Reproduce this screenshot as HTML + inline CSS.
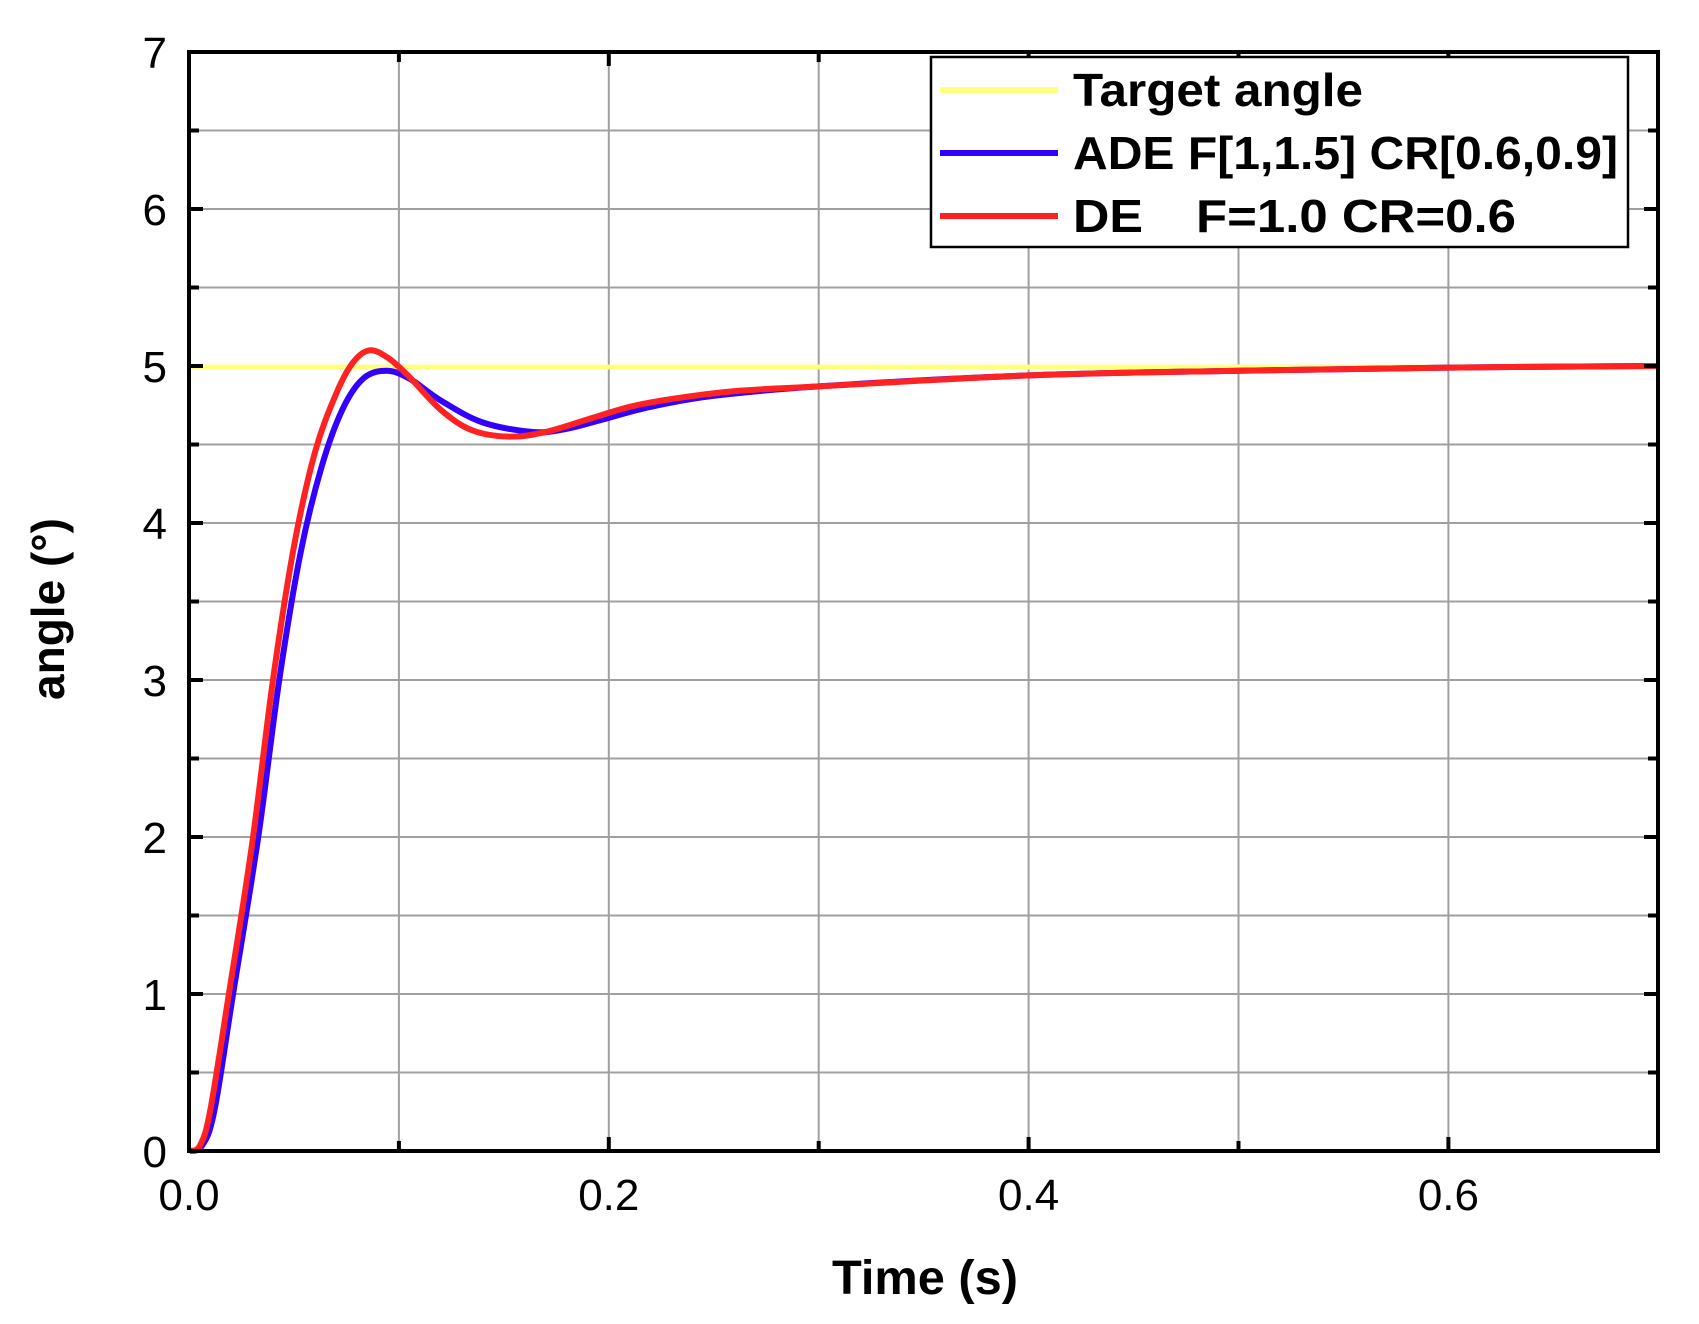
<!DOCTYPE html>
<html><head><meta charset="utf-8"><style>
html,body{margin:0;padding:0;background:#fff;}
svg{display:block;}
</style></head><body>
<svg id="s" width="1699" height="1324" viewBox="0 0 1699 1324" xmlns="http://www.w3.org/2000/svg" font-family="'Liberation Sans', Arial, sans-serif">
<g id="grid" stroke="#a0a0a0" stroke-width="2"></g>
<line x1="189" y1="367" x2="1658" y2="367" stroke="#ffff80" stroke-width="5"/>
<path id="blue" fill="none" stroke="#3300ff" stroke-width="6" stroke-linejoin="round"/>
<path id="red" fill="none" stroke="#ff2222" stroke-width="6" stroke-linejoin="round"/>
<g id="ticks" stroke="#000" stroke-width="4"></g>
<rect x="189" y="52" width="1469" height="1099" fill="none" stroke="#000" stroke-width="4"/>
<g id="labels" font-size="44" fill="#000"></g>
<rect x="931" y="57" width="697" height="190" fill="#fff" stroke="#000" stroke-width="2.5"/>
<line x1="940" y1="90" x2="1058" y2="90" stroke="#ffff80" stroke-width="6"/>
<line x1="940" y1="153" x2="1058" y2="153" stroke="#3300ff" stroke-width="6"/>
<line x1="940" y1="216" x2="1058" y2="216" stroke="#ff2222" stroke-width="6"/>
<g font-size="46" font-weight="bold" fill="#000">
<text x="1073" y="106" textLength="290" lengthAdjust="spacingAndGlyphs">Target angle</text>
<text x="1073" y="169" textLength="545" lengthAdjust="spacingAndGlyphs">ADE F[1,1.5] CR[0.6,0.9]</text>
<text x="1073" y="232" textLength="70" lengthAdjust="spacingAndGlyphs">DE</text>
<text x="1196" y="232" textLength="320" lengthAdjust="spacingAndGlyphs">F=1.0 CR=0.6</text>
</g>
<text x="925" y="1294" font-size="48" font-weight="bold" text-anchor="middle" textLength="186" lengthAdjust="spacingAndGlyphs">Time (s)</text>
<text transform="translate(64,609) rotate(-90)" font-size="46" font-weight="bold" text-anchor="middle">angle (°)</text>
</svg>
<script>
var X0=189,XS=2099,Y0=1151,YS=157;
function px(t){return X0+t*XS;} function py(v){return Y0-v*YS;}
var ns="http://www.w3.org/2000/svg";
function el(p,n,a,txt){var e=document.createElementNS(ns,n);for(var k in a)e.setAttribute(k,a[k]);if(txt!==undefined)e.textContent=txt;document.getElementById(p).appendChild(e);}
for(var i=1;i<7;i++){var x=px(i*0.1);el("grid","line",{x1:x,y1:52,x2:x,y2:1151});}
for(var j=1;j<14;j++){var y=py(j*0.5);el("grid","line",{x1:189,y1:y,x2:1658,y2:y});}
for(var i=1;i<7;i++){var x=px(i*0.1),L=(i%2==0)?14:10;el("ticks","line",{x1:x,y1:1151,x2:x,y2:1151-L});el("ticks","line",{x1:x,y1:52,x2:x,y2:52+L});}
for(var j=1;j<14;j++){var y=py(j*0.5),L=(j%2==0)?14:10;el("ticks","line",{x1:189,y1:y,x2:189+L,y2:y});el("ticks","line",{x1:1658,y1:y,x2:1658-L,y2:y});}
for(var j=0;j<=7;j++){el("labels","text",{x:167,y:py(j)+16,"text-anchor":"end"},""+j);}
["0.0","0.2","0.4","0.6"].forEach(function(s,i){el("labels","text",{x:px(i*0.2),y:1210,"text-anchor":"middle"},s);});
function path(pts){var p=pts.map(function(a){return [px(a[0]),py(a[1])];});var d="M"+p[0][0]+","+p[0][1];
for(var i=0;i<p.length-1;i++){var p0=p[i-1]||p[i],p1=p[i],p2=p[i+1],p3=p[i+2]||p2;
var c1=[p1[0]+(p2[0]-p0[0])/6,p1[1]+(p2[1]-p0[1])/6],c2=[p2[0]-(p3[0]-p1[0])/6,p2[1]-(p3[1]-p1[1])/6];
d+=" C"+c1[0]+","+c1[1]+" "+c2[0]+","+c2[1]+" "+p2[0]+","+p2[1];}return d;}
var red=[[0,0],[0.005,0.03],[0.01,0.25],[0.019,1.0],[0.03,1.95],[0.04,3.0],[0.05,3.85],[0.06,4.45],[0.07,4.82],[0.078,5.02],[0.086,5.1],[0.095,5.05],[0.105,4.93],[0.12,4.72],[0.135,4.59],[0.153,4.55],[0.17,4.58],[0.19,4.66],[0.21,4.74],[0.23,4.79],[0.26,4.84],[0.3,4.87],[0.4,4.94],[0.5,4.97],[0.6,4.99],[0.7,5.0]];
var blue=[[0,0],[0.006,0.03],[0.012,0.25],[0.021,1.0],[0.033,2.0],[0.043,3.0],[0.053,3.8],[0.063,4.35],[0.073,4.72],[0.083,4.92],[0.094,4.97],[0.105,4.92],[0.12,4.78],[0.14,4.64],[0.164,4.58],[0.18,4.6],[0.2,4.67],[0.22,4.74],[0.25,4.81],[0.3,4.87],[0.4,4.94],[0.5,4.97],[0.6,4.99],[0.7,5.0]];
document.getElementById("red").setAttribute("d",path(red));
document.getElementById("blue").setAttribute("d",path(blue));
</script>
</body></html>
